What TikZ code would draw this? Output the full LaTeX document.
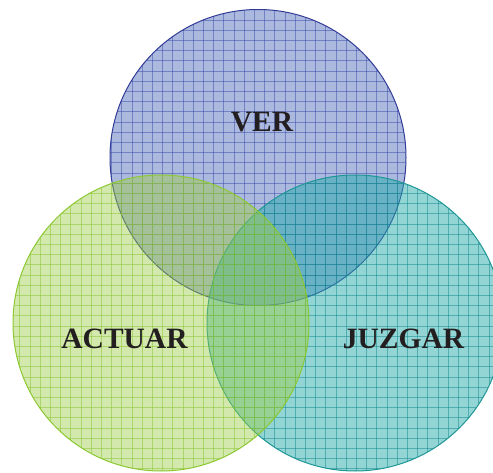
\documentclass[tikz,border=0pt]{standalone}
\usepackage{fontspec}
\setmainfont{Liberation Serif}
\definecolor{vfill}{RGB}{90,115,190}
\definecolor{vline}{RGB}{55,75,170}
\definecolor{vedge}{RGB}{50,60,150}
\definecolor{tfill}{RGB}{40,170,170}
\definecolor{tline}{RGB}{15,135,140}
\definecolor{tedge}{RGB}{30,150,150}
\definecolor{gfill}{RGB}{155,205,70}
\definecolor{gline}{RGB}{135,195,45}
\definecolor{gedge}{RGB}{140,200,50}
\definecolor{txt}{RGB}{35,31,32}
\newcommand\venncircle[5]{%
  \begin{scope}
    \clip #1 circle[radius=148pt];
    \fill[#2, fill opacity=#3] #1 circle[radius=148pt];
    \foreach \k in {0,...,47} {
      \draw[#4, line width=0.8pt, draw opacity=0.5] ({9.5+10.2*\k},0) -- ++(0,472);
    }
    \foreach \k in {0,...,46} {
      \draw[#4, line width=0.8pt, draw opacity=0.5] (0,{472.4-10.2*\k}) -- ++(493,0);
    }
  \end{scope}
  \draw[#5, line width=1pt] #1 circle[radius=148pt];
}
\tikzset{label text/.style={font=\fontsize{29.5}{34}\selectfont\bfseries, text=txt, anchor=base, inner sep=0pt}}
\begin{document}
\begin{tikzpicture}[x=1pt,y=1pt]
  \useasboundingbox (0,0) rectangle (493,472);
  \clip (0,0) rectangle (493,472);
  \coordinate (cver) at (258,314.5);
  \coordinate (cact) at (161,149);
  \coordinate (cjuz) at (355,149);
  \venncircle{(cver)}{vfill}{0.5}{vline}{vedge}
  \venncircle{(cjuz)}{tfill}{0.5}{tline}{tedge}
  \venncircle{(cact)}{gfill}{0.45}{gline}{gedge}
  \node[label text] (ver) at (262,340) {VER};
  \node[label text] (actuar) at (124.5,124) {ACTUAR};
  \node[label text] (juzgar) at (403.5,124) {JUZGAR};
\end{tikzpicture}
\end{document}
